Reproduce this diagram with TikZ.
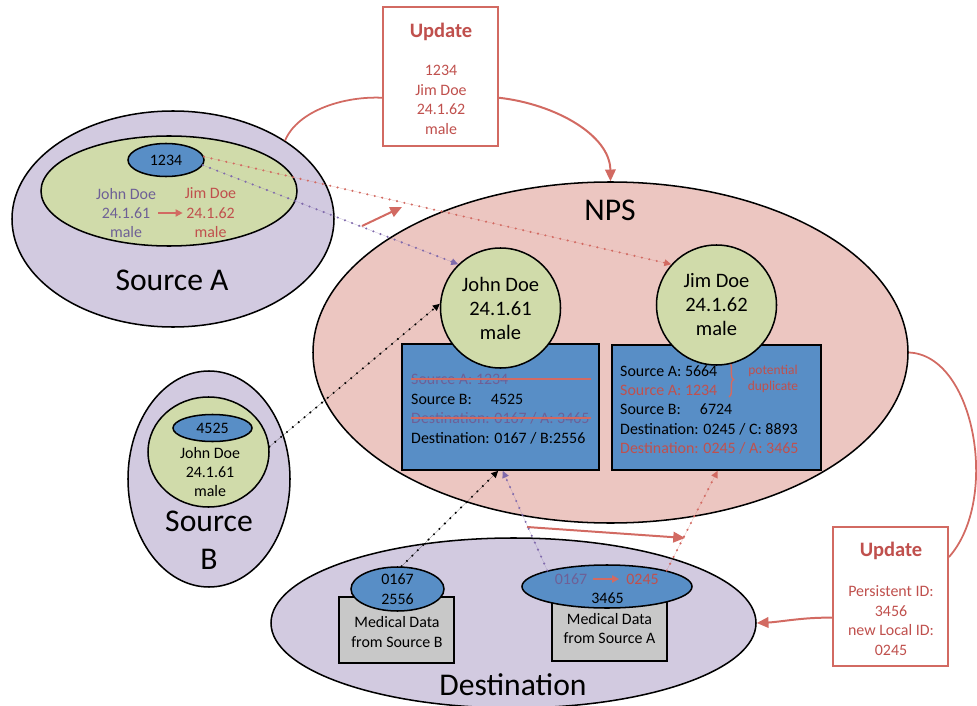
\documentclass[tikz,border=0pt]{standalone}
\usepackage{fontspec}
\setmainfont{Carlito}
\usetikzlibrary{arrows.meta,shapes.geometric,decorations.pathreplacing}
\definecolor{lav}{RGB}{210,202,224}
\definecolor{grn}{RGB}{208,219,170}
\definecolor{blu}{RGB}{88,142,198}
\definecolor{pnk}{RGB}{236,198,193}
\definecolor{gry}{RGB}{200,200,200}
\definecolor{rtx}{RGB}{192,80,77}
\definecolor{rln}{RGB}{210,106,98}
\definecolor{ptx}{RGB}{110,96,150}
\definecolor{pdot}{RGB}{128,106,172}
\newdimen\pxu \pxu=0.03cm
\begin{document}
\begin{tikzpicture}[x=0.03cm,y=-0.03cm,
  shp/.style={draw=black,line width=1.3pt},
  ell/.style={shp,ellipse,inner sep=0pt},
  boxs/.style={shp,rectangle,inner sep=0pt},
  ubox/.style={draw=rln,line width=1.5pt,fill=white,rectangle,inner sep=0pt,minimum width=115\pxu,minimum height=139\pxu},
  small/.style={font=\fontsize{13.6}{16.6}\selectfont,align=center,inner sep=0pt},
  big/.style={font=\fontsize{27}{32.4}\selectfont,align=center,inner sep=0pt},
  circ/.style={shp,circle,fill=grn,minimum size=120\pxu,inner sep=0pt,font=\fontsize{17.5}{20.5}\selectfont,align=center},
  upd/.style={font=\fontsize{17.5}{20}\selectfont\bfseries,text=rtx,inner sep=0pt},
  boxline/.style={font=\fontsize{13.6}{16}\selectfont,anchor=west,inner sep=0pt,text height=8.8pt,text depth=0pt},
  rline/.style={draw=rln,line width=1.5pt},
  rarrow/.style={draw=rln,line width=1.7pt,-{Triangle[length=10pt,width=9pt]}},
  tarrow/.style={draw=rln,line width=1.5pt,-{Triangle[length=6pt,width=6pt]}},
  dots/.style={line width=2pt,dash pattern=on 0pt off 6.5pt,line cap=round,-{Triangle[length=6pt,width=5.5pt]}},
  strike/.style={draw=rln,line width=1.3pt}]
\useasboundingbox (0,0) rectangle (977,706);

% ---------- Source A ----------
\node[ell,fill=lav,minimum width=322\pxu,minimum height=216\pxu] (srcA) at (173,219) {};
\node[ell,fill=grn,minimum width=256\pxu,minimum height=110\pxu] (gA) at (169,191) {};
\node[ell,fill=blu,minimum width=76\pxu,minimum height=33\pxu,small] (b1234) at (166,160) {1234};
\node[small,text=ptx] (aj) at (126,213) {John Doe\\24.1.61\\male};
\node[small,text=rtx] (am) at (210.5,213) {Jim Doe\\24.1.62\\male};
\draw[tarrow] ([xshift=2\pxu]aj.east) -- ([xshift=-2\pxu]am.west);
\node[big] (lA) at (172,280) {Source A};

% ---------- Update box (top) ----------
\node[ubox] (upd1) at (440.5,76.5) {};
\node[upd] (u1t) at (441,32) {Update};
\node[small,text=rtx] (u1b) at (441,100) {1234\\Jim Doe\\24.1.62\\male};
\draw[rline] (srcA.35) .. controls (298,110) and (345,96) .. (upd1.200);

% ---------- NPS ----------
\node[ell,fill=pnk,minimum width=595\pxu,minimum height=341\pxu] (nps) at (610.5,352.5) {};
\draw[rarrow] (upd1.340) .. controls (555,104) and (610,135) .. (nps.north);
\node[big] (lN) at (610,210) {NPS};

% left record box
\node[boxs,fill=blu,minimum width=197\pxu,minimum height=126\pxu] (lbox) at (500.5,407) {};
\node[boxline,text=ptx] (l1) at (411,379) {Source A: 1234};
\node[boxline] (l2) at (411,399) {Source B:\hspace{1.2em}4525};
\node[boxline,text=ptx] (l3) at (411,418) {Destination: 0167 / A: 3465};
\node[boxline] (l4) at (411,438) {Destination: 0167 / B:2556};
\coordinate (sx) at (591,0);
\draw[strike] (l1.west) -- (l1.west -| sx);
\draw[strike] (l3.west) -- (l3.west -| sx);

% right record box
\node[boxs,fill=blu,minimum width=209\pxu,minimum height=125\pxu] (rbox) at (716.5,407.5) {};
\node[boxline] (r1) at (620,371) {Source A: 5664};
\node[boxline,text=rtx] (r2) at (620,390) {Source A: 1234};
\node[boxline] (r3) at (620,409) {Source B:\hspace{1.2em}6724};
\node[boxline] (r4) at (620,429) {Destination: 0245 / C: 8893};
\node[boxline,text=rtx] (r5) at (620,448) {Destination: 0245 / A: 3465};
\draw[draw=rln,line width=1.2pt,decorate,decoration={brace,amplitude=4pt}] (729,362) -- (729,397);
\node[font=\fontsize{11.5}{13.7}\selectfont,text=rtx,align=center,inner sep=0pt] (pd) at (773,379) {potential\\duplicate};

% circles
\node[circ] (jd) at (500.5,308) {John Doe\\24.1.61\\male};
\node[circ] (jm) at (716.5,305) {Jim Doe\\24.1.62\\male};

% ---------- Source B ----------
\node[ell,fill=lav,minimum width=162\pxu,minimum height=216\pxu] (srcB) at (209,479) {};
\node[ell,fill=grn,minimum width=121\pxu,minimum height=110\pxu] (gB) at (208.5,452) {};
\node[ell,fill=blu,minimum width=79\pxu,minimum height=27\pxu,small] (b4525) at (212.5,428) {4525};
\node[small] (bj) at (210,472) {John Doe\\24.1.61\\male};
\node[big] (lB) at (209,540) {Source\\B};

% ---------- Destination ----------
\node[ell,fill=lav,minimum width=485\pxu,minimum height=170\pxu] (dest) at (513.5,623) {};
\node[big] (lD) at (513,685) {Destination};
\node[boxs,fill=gry,minimum width=115\pxu,minimum height=66\pxu] (gbB) at (396.5,630) {};
\node[small] (mdB) at (397,632) {Medical Data\\from Source B};
\node[boxs,fill=gry,minimum width=115\pxu,minimum height=63\pxu] (gbA) at (609.5,629.5) {};
\node[small] (mdA) at (609.5,628.5) {Medical Data\\from Source A};
\node[ell,fill=blu,minimum width=93\pxu,minimum height=44\pxu,small] (e0167) at (397.5,589) {0167\\2556};
\node[ell,fill=blu,minimum width=170\pxu,minimum height=43\pxu] (e3465) at (607,586.5) {};
\node[small,text=ptx] (t0167) at (571,579) {0167};
\node[small,text=rtx] (t0245) at (642.5,579) {0245};
\draw[tarrow] ([xshift=6\pxu]t0167.east) -- ([xshift=-7\pxu]t0245.west);
\node[small] (t3465) at (607.5,598) {3465};

% ---------- Update box (bottom right) ----------
\node[ubox] (upd2) at (890.5,596.5) {};
\node[upd] (u2t) at (891,551) {Update};
\node[small,text=rtx] (u2b) at (891,620.5) {Persistent ID:\\3456\\new Local ID:\\0245};
\draw[rline] (nps.east) .. controls (975,355) and (1000,500) .. (upd2.34);
\draw[rarrow] (upd2.200) .. controls (805,617) and (780,622) .. (dest.east);

% ---------- free red arrows ----------
\coordinate (ra1) at (362,226);
\coordinate (ra2) at (402,207);
\coordinate (ra3) at (527,527);
\coordinate (ra4) at (685,538);
\draw[rarrow] (ra1) -- (ra2);
\draw[rarrow] (ra3) -- (ra4);

% ---------- dotted links ----------
\draw[dots,draw=pdot,fill=pdot] (b1234.-8) -- (jd.134);
\draw[dots,draw=rln,fill=rln] (b1234.5) -- (jm.138);
\draw[dots,draw=black,fill=black] (gB.5) -- (jd.176);
\draw[dots,draw=black,fill=black] (e0167.80) -- (lbox.268.5);
\draw[dots,draw=pdot,fill=pdot] (e3465.165) -- (lbox.272);
\draw[dots,draw=rln,fill=rln] (e3465.15) -- (rbox.271);
\end{tikzpicture}
\end{document}
